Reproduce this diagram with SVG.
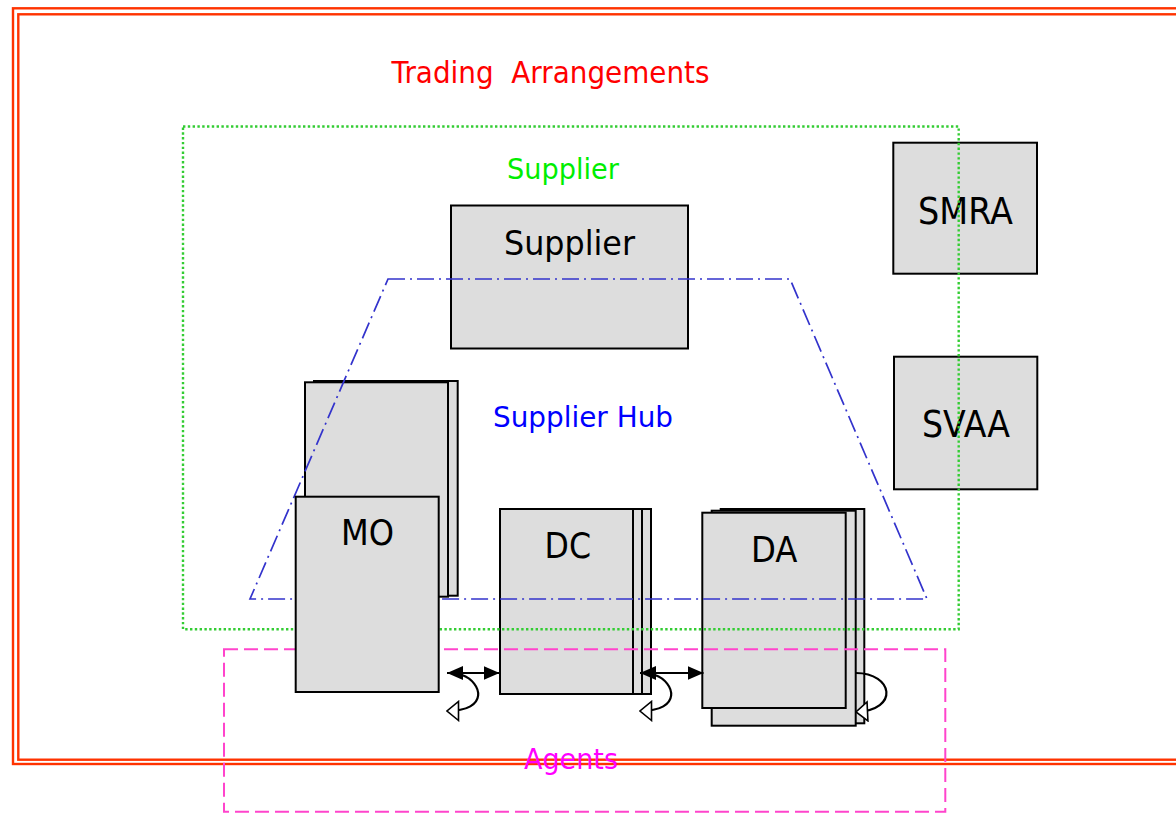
<svg xmlns="http://www.w3.org/2000/svg" width="1176" height="813" viewBox="0 0 1176 813">
<style>
.box{fill:#DDDDDD;stroke:#000;stroke-width:2}
.lbl{font-family:"DejaVu Sans","Liberation Sans",sans-serif;fill:#000}
.frame{fill:none;stroke:#FF3300;stroke-width:2.4}
.conn{fill:none;stroke:#000;stroke-width:2.2}
</style>
<defs>
<marker id="fa" viewBox="0 0 16 14" refX="16" refY="7" markerWidth="16" markerHeight="14" markerUnits="userSpaceOnUse" orient="auto-start-reverse">
<path d="M0 0 L16 7 L0 14 z" fill="#000"/>
</marker>
<marker id="ha" viewBox="0 0 14 22" refX="13" refY="11" markerWidth="14" markerHeight="22" markerUnits="userSpaceOnUse" orient="auto">
<path d="M1.5 1.5 L13 11 L1.5 20.5 z" fill="#fff" stroke="#000" stroke-width="1.6"/>
</marker>
</defs>
<rect width="1176" height="813" fill="#fff"/>

<g id="trading-arrangements">
<rect class="frame" x="13" y="8.3" width="1200" height="755.7"/>
<rect class="frame" x="18.3" y="14.3" width="1200" height="745.4"/>
<text x="391.5" y="83" font-family="DejaVu Sans, sans-serif" font-size="31" fill="#FF0000" textLength="318" lengthAdjust="spacingAndGlyphs" xml:space="preserve">Trading  Arrangements</text>
</g>

<g id="dc">
<rect class="box" x="518" y="509" width="133" height="185"/>
<rect class="box" x="509" y="509" width="133" height="185"/>
<rect class="box" x="500" y="509" width="133" height="185"/>
<text class="lbl" x="544.5" y="557.5" font-size="36" textLength="46.5" lengthAdjust="spacingAndGlyphs">DC</text>
</g>

<g id="da">
<rect class="box" x="720.7" y="509" width="143.6" height="214.3"/>
<rect class="box" x="711.7" y="510.7" width="144" height="215"/>
<rect class="box" x="702.3" y="512.7" width="143.4" height="195.3"/>
<text class="lbl" x="751" y="561.5" font-size="36" textLength="46.5" lengthAdjust="spacingAndGlyphs">DA</text>
</g>

<g id="smra">
<rect class="box" x="893.3" y="142.7" width="143.7" height="131"/>
<text class="lbl" x="918" y="224" font-size="37" textLength="95" lengthAdjust="spacingAndGlyphs">SMRA</text>
</g>

<g id="svaa">
<rect class="box" x="894" y="356.7" width="143.3" height="132.6"/>
<text class="lbl" x="922" y="437.3" font-size="37" textLength="88" lengthAdjust="spacingAndGlyphs">SVAA</text>
</g>

<g id="supplier">
<rect class="box" x="451" y="205.5" width="237" height="143"/>
<text class="lbl" x="504" y="255" font-size="33" textLength="131" lengthAdjust="spacingAndGlyphs">Supplier</text>
</g>

<g id="mo-stack">
<rect class="box" x="314" y="381" width="143.7" height="214.7"/>
<rect class="box" x="305" y="382.3" width="143" height="214.4"/>
</g>

<g id="supplier-area">
<rect x="183" y="126.5" width="775.7" height="502.8" fill="none" stroke="#33CC33" stroke-width="2.4" stroke-dasharray="2.4 2.4"/>
<text x="507" y="179.3" font-family="DejaVu Sans, sans-serif" font-size="28.5" fill="#00EE00" textLength="112" lengthAdjust="spacingAndGlyphs">Supplier</text>
</g>

<g id="supplier-hub">
<polygon points="388,279 790,279 927,599 250,599" fill="none" stroke="#3333CC" stroke-width="1.7" stroke-dasharray="17 5 2 5"/>
<text x="493" y="427" font-family="DejaVu Sans, sans-serif" font-size="28.5" fill="#0000FF" textLength="180" lengthAdjust="spacingAndGlyphs">Supplier Hub</text>
</g>

<g id="agents">
<rect x="224" y="649.3" width="721.3" height="162.4" fill="none" stroke="#FF44CC" stroke-width="2" stroke-dasharray="14 6"/>
<text x="524" y="768.5" font-family="DejaVu Sans, sans-serif" font-size="29" fill="#FF00FF" textLength="94" lengthAdjust="spacingAndGlyphs">Agents</text>
</g>

<g id="mo">
<rect class="box" x="295.7" y="496.7" width="143" height="195.3"/>
<text class="lbl" x="341" y="545" font-size="36" textLength="53" lengthAdjust="spacingAndGlyphs">MO</text>
</g>

<g id="connectors">
<line class="conn" x1="447" y1="673" x2="499.5" y2="673" marker-start="url(#fa)" marker-end="url(#fa)"/>
<path class="conn" d="M462 675 C482 682,490 711,447 711" marker-end="url(#ha)"/>
<line class="conn" x1="640" y1="673" x2="703.5" y2="673" marker-start="url(#fa)" marker-end="url(#fa)"/>
<path class="conn" d="M655 675 C675 682,683 711,640 711" marker-end="url(#ha)"/>
<path class="conn" d="M856 673 C893 673,900 710,856 712" marker-end="url(#ha)"/>
</g>
</svg>
